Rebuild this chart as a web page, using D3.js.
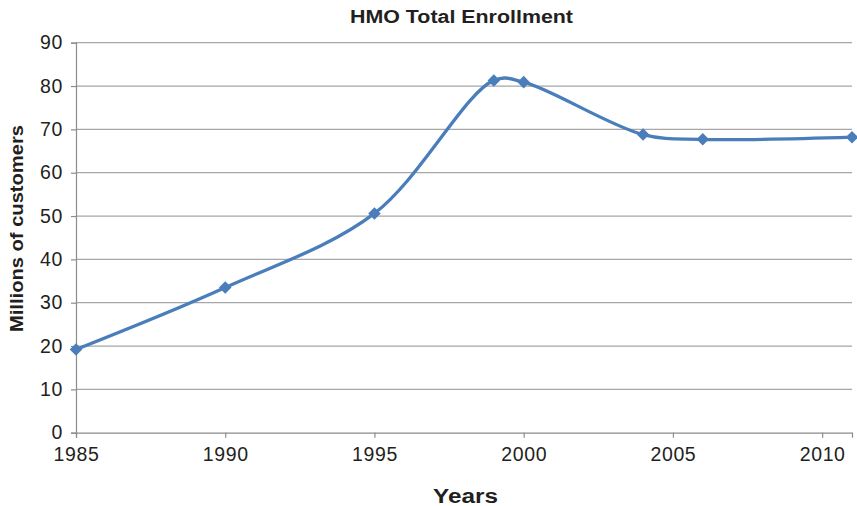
<!DOCTYPE html>
<html>
<head>
<meta charset="utf-8">
<script src="https://cdn.jsdelivr.net/npm/d3@7"></script>
<style>
  html, body { margin: 0; padding: 0; background: #fff; }
  svg { display: block; font-family: "Liberation Sans", Arial, Helvetica, sans-serif; }
</style>
</head>
<body>
<svg id="chart" width="857" height="506"></svg>
<script>
// HMO enrollment, millions of customers by year
const years = [1985, 1990, 1995, 1999, 2000, 2004, 2006, 2011];
const enrollment = [19.2, 33.5, 50.6, 81.3, 80.9, 68.8, 67.7, 68.2];
const yTicks = [0, 10, 20, 30, 40, 50, 60, 70, 80, 90];
const xTicks = [1985, 1990, 1995, 2000, 2005, 2010];

const title = "HMO Total Enrollment";
const xTitle = "Years";
const yTitle = "Millions of customers";

const svg = d3.select("#chart");
const plot = { left: 76, right: 852, top: 42.7, bottom: 432.7 };

const x = d3.scaleLinear().domain([1985, 2011]).range([plot.left, plot.right]);
const y = d3.scaleLinear().domain([0, 90]).range([plot.bottom, plot.top]);

const gridColor = "#a6a6a6";
const axisColor = "#8c8c8c";

// horizontal gridlines
svg.append("g")
  .selectAll("line")
  .data(yTicks.filter(d => d > 0))
  .join("line")
  .attr("x1", plot.left).attr("x2", plot.right)
  .attr("y1", d => y(d)).attr("y2", d => y(d))
  .attr("stroke", gridColor).attr("stroke-width", 1.2);

// y axis
const yAxis = svg.append("g")
  .attr("transform", `translate(${plot.left},0)`)
  .call(d3.axisLeft(y).tickValues(yTicks).tickSize(5).tickPadding(8).tickFormat(d3.format("d")));
yAxis.select(".domain").attr("stroke", axisColor).attr("stroke-width", 1.2);
yAxis.selectAll(".tick line").attr("stroke", axisColor).attr("stroke-width", 1.2);
yAxis.selectAll(".tick text")
  .attr("fill", "#231f20").attr("font-size", 19.5).attr("letter-spacing", 0.6)
  .attr("font-family", "Liberation Sans, Arial, sans-serif");

// x axis
const xAxis = svg.append("g")
  .attr("transform", `translate(0,${plot.bottom})`)
  .call(d3.axisBottom(x).tickValues(xTicks).tickSize(5).tickPadding(9).tickFormat(d3.format("d")));
xAxis.select(".domain").attr("stroke", axisColor).attr("stroke-width", 1.2);
xAxis.selectAll(".tick line").attr("stroke", axisColor).attr("stroke-width", 1.2);
xAxis.selectAll(".tick text")
  .attr("fill", "#231f20").attr("font-size", 19.5).attr("letter-spacing", 0.6)
  .attr("font-family", "Liberation Sans, Arial, sans-serif");

// smoothed enrollment line
const pts = years.map((yr, i) => [yr, enrollment[i]]);
const line = d3.line()
  .x(d => x(d[0])).y(d => y(d[1]))
  .curve(d3.curveCatmullRom.alpha(0.5));

svg.append("path")
  .datum(pts)
  .attr("d", line)
  .attr("fill", "none")
  .attr("stroke", "#4a7ebb")
  .attr("stroke-width", 3.3)
  .attr("stroke-linejoin", "round");

// diamond markers
const diamond = d3.symbol().type(d3.symbolDiamond2).size(100);
svg.append("g")
  .selectAll("path")
  .data(pts)
  .join("path")
  .attr("transform", d => `translate(${x(d[0])},${y(d[1])})`)
  .attr("d", diamond)
  .attr("fill", "#4a7ebb");

// titles
svg.append("text")
  .attr("x", 461.5).attr("y", 22.5)
  .attr("text-anchor", "middle")
  .attr("font-size", 18).attr("font-weight", "bold").attr("fill", "#231f20")
  .attr("textLength", 223).attr("lengthAdjust", "spacingAndGlyphs")
  .text(title);

svg.append("text")
  .attr("x", 465.5).attr("y", 502.5)
  .attr("text-anchor", "middle")
  .attr("font-size", 19.5).attr("font-weight", "bold").attr("fill", "#231f20")
  .attr("textLength", 65).attr("lengthAdjust", "spacingAndGlyphs")
  .text(xTitle);

svg.append("text")
  .attr("transform", "translate(22.5,228.5) rotate(-90)")
  .attr("text-anchor", "middle")
  .attr("font-size", 18.5).attr("font-weight", "bold").attr("fill", "#231f20")
  .attr("textLength", 207).attr("lengthAdjust", "spacingAndGlyphs")
  .text(yTitle);
</script>
</body>
</html>
